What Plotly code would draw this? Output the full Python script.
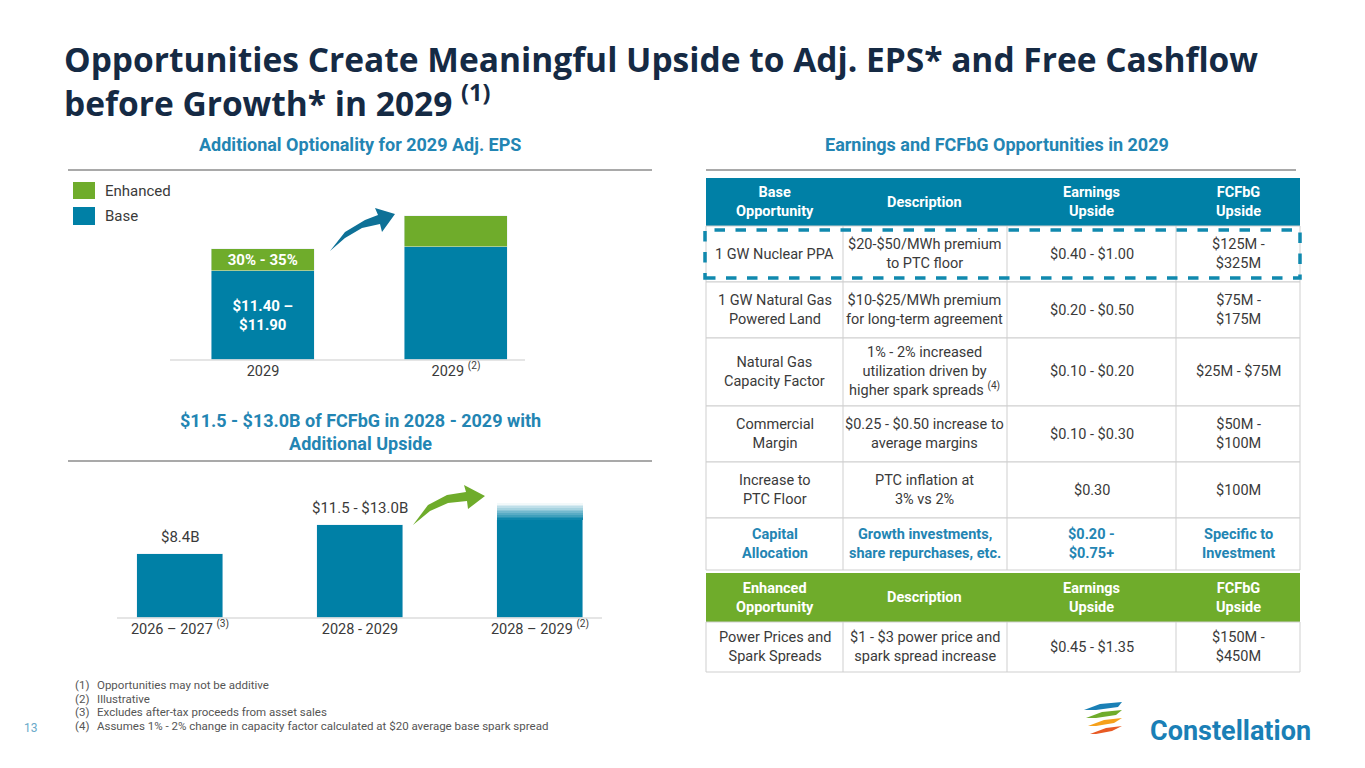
import plotly.graph_objects as go

W, H = 1365, 768
BLUE = "#0080A6"
GREEN = "#6FAC2B"
NAVY = "#152A44"
SUB = "#2385B3"
TXT = "#3a3a3a"
FONT = "Roboto"
OFF = 8  # page body margin

def px(x): return (x - OFF) / W
def py(y): return 1 - (y - OFF) / H

# ---------------- data ----------------
eps_cats = ["2029", "2029 <sup>(2)</sup>"]
eps_base = [11.65, 14.8]
eps_enh = [2.9, 4.05]
eps_base_lbl = ["<b>$11.40 –<br>$11.90</b>", ""]
eps_enh_lbl = ["<b>30% - 35%</b>", ""]

fcf_cats = ["2026 – 2027 <sup>(3)</sup>", "2028 - 2029", "2028 – 2029 <sup>(2)</sup>"]
fcf_vals = [8.4, 12.25, 12.9]
fcf_fade = [0, 0, 2.2]
fcf_lbls = ["$8.4B", "$11.5 - $13.0B", ""]

base_header = ["Base<br>Opportunity", "Description", "Earnings<br>Upside", "FCFbG<br>Upside"]
base_rows = [
    ["1 GW Nuclear PPA", "$20-$50/MWh premium<br>to PTC floor", "$0.40 - $1.00", "$125M -<br>$325M"],
    ["1 GW Natural Gas<br>Powered Land", "$10-$25/MWh premium<br>for long-term agreement", "$0.20 - $0.50", "$75M -<br>$175M"],
    ["Natural Gas<br>Capacity Factor", "1% - 2% increased<br>utilization driven by<br>higher spark spreads <sup>(4)</sup>", "$0.10 - $0.20", "$25M - $75M"],
    ["Commercial<br>Margin", "$0.25 - $0.50 increase to<br>average margins", "$0.10 - $0.30", "$50M -<br>$100M"],
    ["Increase to<br>PTC Floor", "PTC inflation at<br>3% vs 2%", "$0.30", "$100M"],
    ["<b>Capital<br>Allocation</b>", "<b>Growth investments,<br>share repurchases, etc.</b>", "<b>$0.20 -<br>$0.75+</b>", "<b>Specific to<br>Investment</b>"],
]
enh_header = ["Enhanced<br>Opportunity", "Description", "Earnings<br>Upside", "FCFbG<br>Upside"]
enh_rows = [["Power Prices and<br>Spark Spreads", "$1 - $3 power price and<br>spark spread increase", "$0.45 - $1.35", "$150M -<br>$450M"]]

footnotes = ["(1)", "(2)", "(3)", "(4)"]
footnote_txt = ["Opportunities may not be additive", "Illustrative",
                "Excludes after-tax proceeds from asset sales",
                "Assumes 1% - 2% change in capacity factor calculated at $20 average base spark spread"]

# ---------------- layout geometry ----------------
col_x = [706, 843, 1007, 1176, 1300]
base_y = [178, 226, 282, 338, 406, 462, 518, 570]
enh_y = [573, 622, 672]

fig = go.Figure()

fig.add_trace(go.Bar(x=eps_cats, y=eps_base, marker_color=BLUE, width=0.53,
                     text=eps_base_lbl, textposition="inside", insidetextanchor="middle",
                     constraintext="none",
                     textfont=dict(color="white", size=15, family=FONT),
                     xaxis="x", yaxis="y", showlegend=False, hoverinfo="skip"))
fig.add_trace(go.Bar(x=eps_cats, y=eps_enh, marker_color=GREEN, width=0.53,
                     text=eps_enh_lbl, textposition="inside", insidetextanchor="middle",
                     constraintext="none",
                     textfont=dict(color="white", size=15, family=FONT),
                     xaxis="x", yaxis="y", showlegend=False, hoverinfo="skip"))

fig.add_trace(go.Bar(x=fcf_cats, y=fcf_vals, marker_color=BLUE, width=0.48,
                     xaxis="x2", yaxis="y2", showlegend=False, hoverinfo="skip"))
nseg = 10
for i in range(nseg):
    a = 1 - (i + 0.5) / nseg
    fig.add_trace(go.Bar(x=fcf_cats, y=[v / nseg for v in fcf_fade], width=0.48,
                         marker=dict(color=f"rgba(0,128,166,{a:.2f})", line_width=0),
                         xaxis="x2", yaxis="y2", showlegend=False, hoverinfo="skip"))

annotations = []
shapes = []

def ann(x, y, text, size, color, xa="center", ya="middle", align="center", family=FONT):
    annotations.append(dict(x=x, y=y, xref="paper", yref="paper", text=text, showarrow=False,
                            xanchor=xa, yanchor=ya, align=align,
                            font=dict(size=size, color=color, family=family)))

for c, v, l in zip(fcf_cats, fcf_vals, fcf_lbls):
    if l:
        annotations.append(dict(x=c, y=v, xref="x2", yref="y2", text=l, showarrow=False,
                                xanchor="center", yanchor="bottom", yshift=6,
                                font=dict(size=15, color=TXT, family=FONT)))

fig.update_layout(
    barmode="stack",
    xaxis=dict(domain=[px(166.5), px(552.5)], anchor="y", showgrid=False, showline=False, ticks="",
               tickfont=dict(size=14.5, color=TXT, family=FONT)),
    yaxis=dict(domain=[py(360), py(160)], range=[0, 26.2], visible=False),
    xaxis2=dict(domain=[px(90), px(630)], anchor="y2", showgrid=False, showline=False, ticks="",
                tickfont=dict(size=14.5, color=TXT, family=FONT)),
    yaxis2=dict(domain=[py(618), py(478)], range=[0, 18.4], visible=False),
)

def line(x0, x1, y0, y1, color, w, dash=None):
    shapes.append(dict(type="line", xref="paper", yref="paper", x0=px(x0), x1=px(x1), y0=py(y0), y1=py(y1),
                       line=dict(color=color, width=w, dash=dash)))

line(170, 525, 360, 360, "#dddddd", 1.5)
line(117, 602, 618, 618, "#dddddd", 1.5)
for x0, x1, y in [(68, 652, 170), (68, 652, 461), (706, 1296, 170)]:
    line(x0, x1, y, y, "#555555", 1.2)

for (y0, y1, col, lab) in [(182, 199, GREEN, "Enhanced"), (207, 225, BLUE, "Base")]:
    shapes.append(dict(type="rect", xref="paper", yref="paper", x0=px(73), x1=px(95), y0=py(y1), y1=py(y0),
                       fillcolor=col, line_width=0))
    ann(px(103), py((y0 + y1) / 2), lab, 15, TXT, xa="left")

def path(points):
    return "M " + " L ".join(f"{px(x)},{py(y)}" for x, y in points) + " Z"

shapes.append(dict(type="path", xref="paper", yref="paper", fillcolor="#0E7197", line_width=0,
                   path=path([(330, 251), (345, 232), (365, 220), (378, 215), (375, 208), (395, 214),
                              (382, 232), (380, 224), (362, 228), (345, 238)])))
shapes.append(dict(type="path", xref="paper", yref="paper", fillcolor=GREEN, line_width=0,
                   path=path([(413, 525), (428, 505), (447, 495), (466, 492), (464, 485), (485, 496),
                              (468, 509), (467, 501), (448, 503), (430, 511)])))

def draw_table(ys, header, rows, hdr_color, blue_rows=()):
    shapes.append(dict(type="rect", xref="paper", yref="paper", x0=px(col_x[0]), x1=px(col_x[-1]),
                       y0=py(ys[1]), y1=py(ys[0]), fillcolor=hdr_color, line_width=0))
    for j, h in enumerate(header):
        ann(px((col_x[j] + col_x[j + 1]) / 2), py((ys[0] + ys[1]) / 2), f"<b>{h}</b>", 14.5, "white")
    for i, row in enumerate(rows):
        yt, yb = ys[i + 1], ys[i + 2]
        shapes.append(dict(type="rect", xref="paper", yref="paper", x0=px(col_x[0]), x1=px(col_x[-1]),
                           y0=py(yb), y1=py(yt), fillcolor="white", line=dict(color="#cfcfcf", width=1)))
        for j in range(1, 4):
            line(col_x[j], col_x[j], yb, yt, "#cfcfcf", 1)
        color = SUB if i in blue_rows else TXT
        for j, cell in enumerate(row):
            ann(px((col_x[j] + col_x[j + 1]) / 2), py((yt + yb) / 2), cell, 14.5, color)

draw_table(base_y, base_header, base_rows, BLUE, blue_rows=(5,))
draw_table(enh_y, enh_header, enh_rows, GREEN)
shapes.append(dict(type="rect", xref="paper", yref="paper", x0=px(705), x1=px(1300), y0=py(278), y1=py(230),
                   line=dict(color="#1089AE", width=3.5, dash="dash")))

ann(px(62), py(81), "<b>Opportunities Create Meaningful Upside to Adj. EPS* and Free Cashflow<br>before Growth* in 2029 <sup>(1)</sup></b>",
    33.5, NAVY, xa="left", align="left", family="Open Sans")
for x, y, t in [(360, 145, "Additional Optionality for 2029 Adj. EPS"),
                (997, 145, "Earnings and FCFbG Opportunities in 2029"),
                (360, 432, "$11.5 - $13.0B of FCFbG in 2028 - 2029 with<br>Additional Upside")]:
    ann(px(x), py(y), f"<b>{t}</b>", 18, SUB)

for i, (n, t) in enumerate(zip(footnotes, footnote_txt)):
    yy = 685 + i * 13.5
    ann(px(73), py(yy), n, 11.5, "#555", xa="left")
    ann(px(95), py(yy), t, 11.5, "#555", xa="left")
ann(px(22), py(728), "13", 12, "#6aa9c9", xa="left")

for k, col in enumerate(["#1A80B6", "#6FAC2B", "#F5A01A", "#E85A24"]):
    yy = 704 + k * 8
    shapes.append(dict(type="path", xref="paper", yref="paper", fillcolor=col, line_width=0,
                       path=path([(1084 + k * 2, yy + 6), (1100 + k * 2, yy), (1122, yy - 2),
                                  (1118 - k * 2, yy + 3), (1096, yy + 6)])))
ann(px(1148), py(731), "<b>Constellation</b>", 27, "#1A7FB6", xa="left")

fig.update_layout(width=W, height=H, margin=dict(l=0, r=0, t=0, b=0),
                  paper_bgcolor="white", plot_bgcolor="rgba(0,0,0,0)",
                  shapes=shapes, annotations=annotations, bargap=0)
fig.write_html("out.html", config={"displayModeBar": False})
